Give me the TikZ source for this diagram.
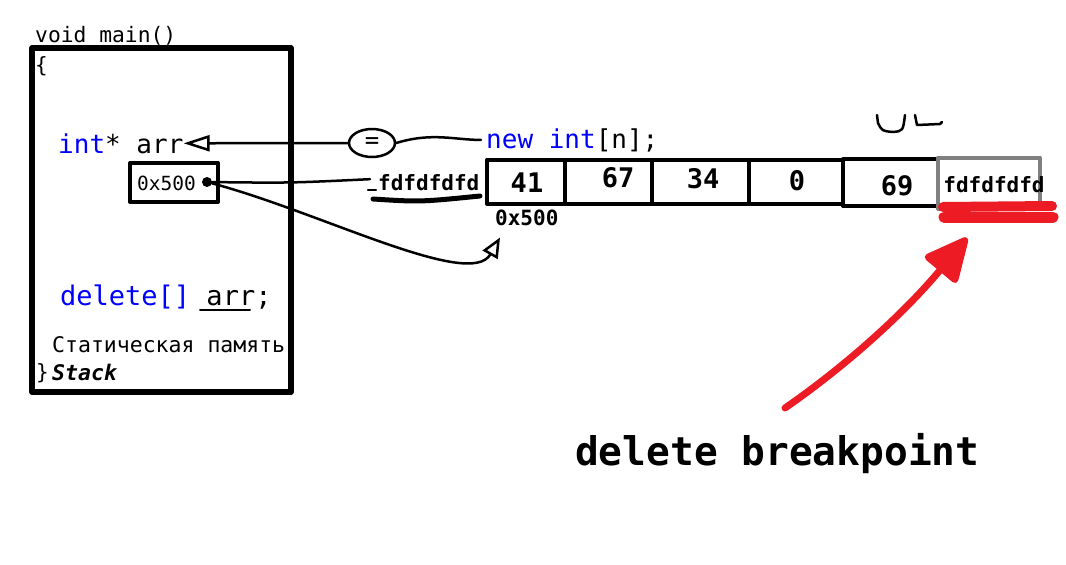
\documentclass[tikz,border=0pt]{standalone}
\usepackage{fontspec}
\setmainfont{DejaVu Sans Mono}
\usetikzlibrary{shapes.geometric,arrows.meta}
\definecolor{kw}{RGB}{0,0,255}
\definecolor{redpen}{RGB}{237,28,36}
\definecolor{cellgray}{RGB}{128,128,128}
\newcommand{\fs}[1]{\fontsize{#1}{#1}\selectfont}

\begin{document}
\begin{tikzpicture}[x=1pt,y=-1pt,line join=round,
    txt/.style={anchor=base west,inner sep=0pt},
    cell/.style={draw,line width=4pt,minimum height=44pt,inner sep=0pt},
    val/.style={anchor=base,inner sep=0pt,font=\fs{27}\bfseries},
    pen/.style={line width=2.5pt,line cap=round}]

        \useasboundingbox (0,0) rectangle (1066,565);

        \node[draw,line width=5.5pt,minimum width=259pt,minimum height=344pt] (stack) at (161.5,220) {};
        \node[draw,line width=4pt,minimum width=88pt,minimum height=39pt] (ptr) at (174,182.5) {};

        \begin{scope}[every node/.style={txt}]
          \node[font=\fs{21.3}] (head)  at (35,42)  {void main()};
          \node[font=\fs{21}] (open)  at (35,72)  {\{};
          \node[font=\fs{26}] (decl)  at (58,153) {{\color{kw}int}* arr};
          \node[font=\fs{19.5}] (addr0) at (137,190) {0x500};
          \node[font=\fs{27}] (del)   at (60,305) {{\color{kw}delete[]} arr;};
          \node[font=\fs{21.5}] (mem)   at (52,352) {Статическая память};
          \node[font=\fs{21}] (close) at (36,379) {\}};
          \node[font=\fs{21.5}\bfseries\itshape] (stk) at (52,380) {Stack};
          \node[font=\fs{26}] (newint) at (486,148) {{\color{kw}new int}[n];};
          \node[font=\fs{21}\bfseries] (fdL) at (378,190) {fdfdfdfd};
          \node[font=\fs{21}\bfseries] (addr) at (495,225) {0x500};
          \node[font=\fs{39.5}\bfseries] (bp) at (575,465) {delete breakpoint};
        \end{scope}

        \node[circle,fill,inner sep=0pt,minimum size=10pt] (dot) at (207,182) {};
        \node[ellipse,draw,line width=2.5pt,minimum width=46pt,minimum height=28pt,inner sep=0pt,font=\fs{24}] (eq) at (372,143) {=};

        \begin{scope}[every node/.style={cell}]
          \node[minimum width=78pt] (c1) at (526,181.5) {};
          \node[minimum width=87pt] (c2) at (608.5,181.5) {};
          \node[minimum width=97pt] (c3) at (700.5,182) {};
          \node[minimum width=94pt] (c4) at (796,182) {};
          \node[minimum width=95pt,minimum height=47pt] (c5) at (890.5,182.5) {};
          \node[draw=cellgray,minimum width=102pt,minimum height=51pt] (c6) at (989,183) {};
        \end{scope}

        \begin{scope}[every node/.style={val}]
          \node (v1) at (527,192) {41};
          \node (v2) at (618,187) {67};
          \node (v3) at (703,188) {34};
          \node (v4) at (797,190) {0};
          \node (v5) at (897,195) {69};
          \node[font=\fs{21}\bfseries] (v6) at (994,192) {fdfdfdfd};
        \end{scope}

        \begin{scope}[every path/.style={pen}]
          \draw[-{Triangle[open,length=26pt,width=16pt]}] (eq.west) -- (decl.east);
          \draw (eq.east) .. controls (432,132) and (455,140) .. ([xshift=-5pt]newint.west);
          \draw (dot) .. controls (290,183) .. ([xshift=-8pt,yshift=3pt]fdL.west);
          \draw[-{Triangle[open,length=20pt,width=17pt]}] (dot) .. controls (320,212) and (470,290) .. ([xshift=5pt,yshift=-12pt]addr.south west);
          \draw[line width=5pt] (373,199) .. controls (420,202) .. (480,196);
          \draw (368,190) -- (376,190);
          \draw[line width=2pt] (200,310) -- (250,310);
          \draw (877,115) -- (878,123) .. controls (882,131) .. (893,132) .. controls (903,131) .. (905,115);
          \draw (915,115) -- (917,125) -- (940,124) -- (942,122);
        \end{scope}

        \coordinate (bpfrom) at (785,408);
        \coordinate (bpto) at (967,238);
        \begin{scope}[redpen,line cap=round]
          \draw[line width=10pt] (943,207) -- (1052,206);
          \draw[line width=11pt] (944,217) -- (1053,217);
          \draw[line width=7pt,-{Triangle[round,length=48pt,width=44pt]}] (bpfrom) .. controls (840,370) and (900,318) .. (bpto);
        \end{scope}

      \end{tikzpicture}
\end{document}
